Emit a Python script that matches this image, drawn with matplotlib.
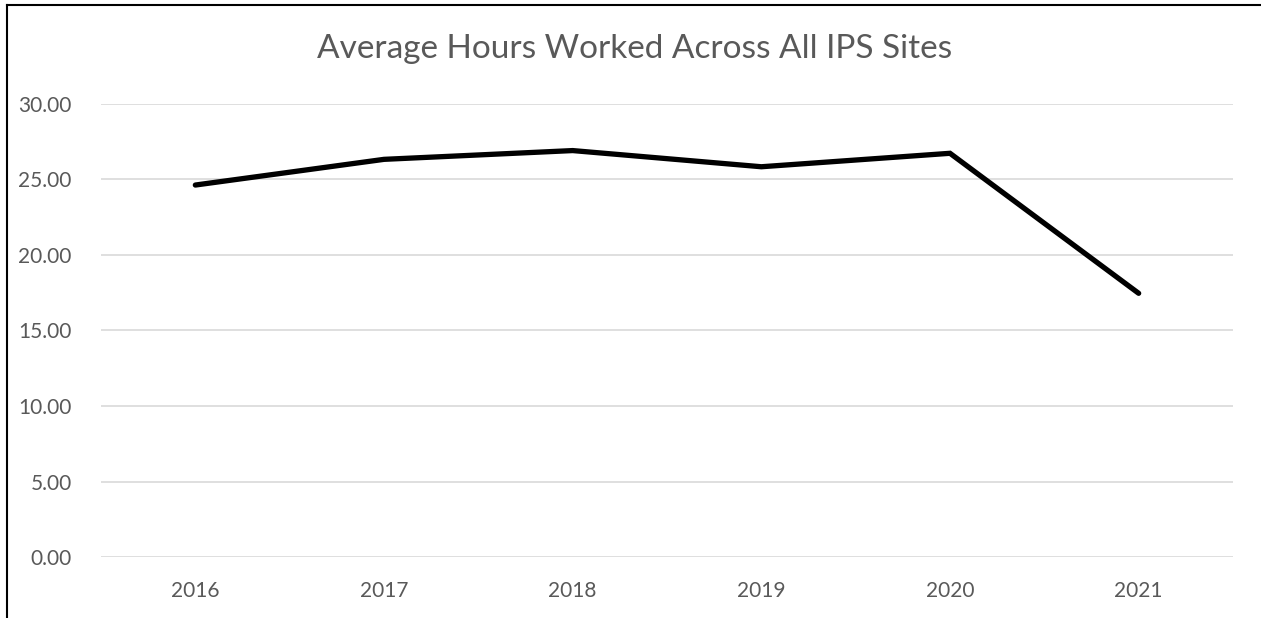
import matplotlib
matplotlib.use("Agg")
import matplotlib.pyplot as plt
from matplotlib.lines import Line2D

years = ["2016", "2017", "2018", "2019", "2020", "2021"]
avg_hours = [24.62, 26.32, 26.90, 25.83, 26.72, 17.46]
yticks = [0, 5, 10, 15, 20, 25, 30]
title = "Average Hours Worked Across All IPS Sites"

plt.rcParams['font.family'] = ['Lato', 'DejaVu Sans']

W, H = 1261, 618
fig = plt.figure(figsize=(W / 100, H / 100), dpi=100)
ax = fig.add_axes([101 / W, 1 - 557.3 / H, (1233 - 101) / W, (557.3 - 103.7) / H])

x = list(range(len(years)))
ax.plot(x, avg_hours, color='black', linewidth=3.8, solid_capstyle='round',
        solid_joinstyle='miter', zorder=3)

ax.set_xlim(-0.5, len(years) - 0.5)
ax.set_ylim(0, 30)
ax.set_yticks(yticks)
ax.set_yticklabels([f"{v:.2f}" for v in yticks])
ax.set_xticks(x)
ax.set_xticklabels(years)
ax.grid(axis='y', color='#d9d9d9', linewidth=1.2, zorder=0)
ax.set_axisbelow(True)
for s in ax.spines.values():
    s.set_visible(False)
ax.tick_params(axis='both', length=0, colors='#595959', labelsize=15)
ax.tick_params(axis='y', pad=21)
ax.tick_params(axis='x', pad=17)

fig.text(635 / W, 1 - 49 / H, title, ha='center', va='center',
         fontsize=24, color='#595959')

# chart border (left and top edges visible)
fig.add_artist(Line2D([6.5 / W, 6.5 / W], [0, 1 - 5 / H], transform=fig.transFigure,
                      color='black', linewidth=1.5))
fig.add_artist(Line2D([6.5 / W, 1], [1 - 5 / H, 1 - 5 / H], transform=fig.transFigure,
                      color='black', linewidth=1.5))

fig.savefig("out.png", dpi=100, facecolor='white')
